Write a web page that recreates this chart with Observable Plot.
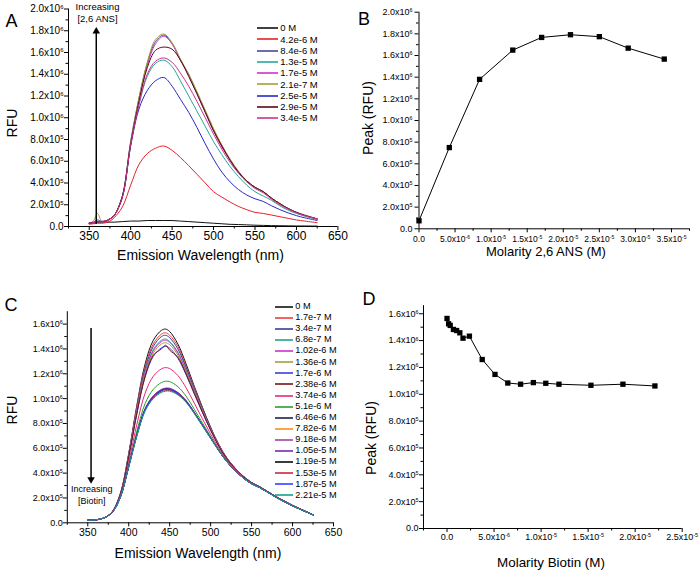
<!DOCTYPE html>
<html><head><meta charset="utf-8">
<script src="https://cdn.jsdelivr.net/npm/d3@7"></script>
<script src="https://cdn.jsdelivr.net/npm/@observablehq/plot@0.6"></script>
<style>
body{margin:0;background:#fff;}
#fig{position:relative;width:699px;height:572px;background:#fff;font-family:Arial,"Liberation Sans",sans-serif;color:#000;overflow:hidden}
.t{position:absolute;white-space:nowrap;line-height:1;transform:translate(-50%,-50%)}
.rot{transform:translate(-50%,-50%) rotate(-90deg)}
.leg{position:absolute;display:flex;align-items:center;white-space:nowrap;height:12px;line-height:1}
.leg svg{display:block}
</style></head><body><div id="fig"></div>
<script>
// ---------------- DATA ----------------
// Panel A: emission spectra, increasing [2,6 ANS]; values in units of 10^6 RFU
const wlA = [350,355,360,365,370,375,380,390,400,410,420,430,440,450,460,470,480,490,500,510,520,530,540,550,560,570,580,590,600,610,625];
const seriesA = ["0 M","4.2e-6 M","8.4e-6 M","1.3e-5 M","1.7e-5 M","2.1e-7 M","2.5e-5 M","2.9e-5 M","3.4e-5 M"];
const colorsA = ["#111111","#e8202a","#48489a","#2aa59a","#d030d0","#a0a030","#2828c8","#5a0a14","#c8348e"];
const a_0M    = [0.030,0.035,0.040,0.040,0.040,0.040,0.040,0.045,0.050,0.050,0.055,0.055,0.055,0.055,0.050,0.045,0.040,0.035,0.030,0.025,0.020,0.018,0.015,0.012,0.010,0.008,0.007,0.006,0.005,0.005,0.004];
const a_4_2e6 = [0.020,0.025,0.030,0.030,0.035,0.050,0.080,0.180,0.380,0.570,0.670,0.720,0.740,0.700,0.635,0.560,0.480,0.400,0.320,0.270,0.225,0.185,0.155,0.130,0.120,0.105,0.090,0.075,0.060,0.050,0.035];
const a_8_4e6 = [0.030,0.035,0.040,0.045,0.050,0.070,0.100,0.280,0.780,1.180,1.500,1.700,1.760,1.680,1.530,1.400,1.230,1.060,0.890,0.740,0.610,0.500,0.420,0.360,0.320,0.260,0.210,0.165,0.130,0.100,0.070];
const a_1_3e5 = [0.030,0.035,0.040,0.045,0.050,0.070,0.100,0.270,0.750,1.120,1.380,1.500,1.530,1.470,1.340,1.200,1.060,0.920,0.780,0.660,0.550,0.460,0.380,0.320,0.280,0.240,0.190,0.150,0.120,0.095,0.065];
const a_1_7e5 = [0.030,0.035,0.045,0.050,0.050,0.070,0.100,0.270,0.770,1.160,1.480,1.680,1.750,1.680,1.530,1.390,1.220,1.050,0.880,0.730,0.610,0.500,0.420,0.360,0.320,0.260,0.210,0.165,0.130,0.100,0.070];
const a_2_1e7 = [0.030,0.050,0.120,0.050,0.050,0.070,0.100,0.280,0.780,1.180,1.510,1.720,1.770,1.690,1.540,1.400,1.240,1.070,0.900,0.750,0.620,0.510,0.420,0.360,0.320,0.260,0.210,0.165,0.130,0.100,0.070];
const a_2_5e5 = [0.030,0.040,0.060,0.045,0.050,0.070,0.100,0.270,0.740,1.080,1.250,1.340,1.370,1.290,1.170,1.050,0.910,0.760,0.620,0.500,0.410,0.340,0.290,0.255,0.230,0.190,0.155,0.125,0.100,0.080,0.055];
const a_2_9e5 = [0.030,0.035,0.040,0.045,0.050,0.070,0.100,0.280,0.760,1.150,1.460,1.620,1.650,1.630,1.530,1.380,1.220,1.050,0.880,0.740,0.610,0.500,0.420,0.360,0.320,0.260,0.210,0.165,0.130,0.105,0.070];
const a_3_4e5 = [0.030,0.035,0.040,0.045,0.050,0.070,0.100,0.270,0.750,1.120,1.400,1.520,1.550,1.510,1.410,1.290,1.150,1.000,0.850,0.710,0.590,0.490,0.410,0.350,0.310,0.250,0.200,0.160,0.125,0.100,0.070];
const valuesA = [a_0M,a_4_2e6,a_8_4e6,a_1_3e5,a_1_7e5,a_2_1e7,a_2_5e5,a_2_9e5,a_3_4e5];

// Panel B: peak vs molarity 2,6 ANS
const ansM  = [0,4.2e-6,8.4e-6,1.3e-5,1.7e-5,2.1e-5,2.5e-5,2.9e-5,3.4e-5];
const peakB = [0.074,0.75,1.38,1.65,1.767,1.792,1.774,1.668,1.567];

// Panel C: emission spectra, increasing [Biotin]
const wlC = [350,360,370,380,390,400,410,420,430,440,445,450,460,470,480,490,500,510,520,530,540,550,560,570,580,590,600,610,625];
const seriesC = ["0 M","1.7e-7 M","3.4e-7 M","6.8e-7 M","1.02e-6 M","1.36e-6 M","1.7e-6 M","2.38e-6 M","3.74e-6 M","5.1e-6 M","6.46e-6 M","7.82e-6 M","9.18e-6 M","1.05e-5 M","1.19e-5 M","1.53e-5 M","1.87e-5 M","2.21e-5 M"];
const colorsC = ["#111111","#f03c3c","#3c3c96","#28a08c","#c832c8","#a0a03c","#3c3cdc","#781414","#e6287d","#28a028","#1e1e50","#ff8c1e","#9b46a5","#7828b4","#0a0a0a","#c8283c","#3c3cff","#14a08c"];
const c00 = [.02,.024,.04,.09,.24,.56,.95,1.28,1.47,1.55,1.56,1.54,1.44,1.28,1.10,.93,.77,.63,.52,.44,.375,.325,.29,.25,.21,.175,.14,.11,.065];
const c01 = [.02,.024,.04,.09,.24,.55,.94,1.26,1.44,1.52,1.53,1.51,1.42,1.26,1.09,.92,.76,.63,.52,.44,.374,.324,.29,.25,.21,.175,.14,.11,.065];
const c02 = [.02,.024,.04,.09,.237,.55,.925,1.24,1.42,1.50,1.51,1.49,1.40,1.25,1.08,.915,.76,.625,.517,.438,.374,.324,.29,.25,.21,.175,.14,.11,.065];
const c03 = [.02,.024,.04,.09,.235,.54,.91,1.22,1.395,1.47,1.48,1.46,1.374,1.23,1.065,.906,.756,.622,.515,.437,.373,.324,.289,.25,.21,.175,.14,.11,.065];
const c04 = [.02,.024,.04,.089,.234,.54,.905,1.21,1.385,1.46,1.47,1.454,1.366,1.224,1.06,.903,.754,.621,.514,.436,.372,.323,.289,.25,.21,.175,.14,.11,.065];
const c05 = [.02,.024,.04,.089,.233,.536,.895,1.196,1.367,1.44,1.45,1.434,1.35,1.212,1.052,.897,.75,.619,.513,.436,.372,.323,.289,.249,.209,.174,.139,.109,.065];
const c06 = [.02,.024,.04,.089,.232,.53,.88,1.174,1.34,1.41,1.42,1.406,1.325,1.193,1.038,.888,.745,.616,.512,.434,.371,.322,.288,.249,.209,.174,.139,.109,.065];
const c07 = [.02,.024,.04,.089,.232,.53,.885,1.18,1.35,1.40,1.43,1.39,1.333,1.20,1.043,.891,.747,.617,.512,.435,.371,.322,.288,.249,.209,.174,.139,.109,.065];
const c08 = [.02,.024,.04,.087,.22,.49,.795,1.044,1.18,1.24,1.25,1.242,1.186,1.088,.964,.837,.714,.599,.501,.428,.366,.319,.286,.247,.207,.172,.138,.108,.064];
const c09 = [.02,.024,.04,.086,.215,.468,.74,.96,1.075,1.13,1.14,1.137,1.096,1.02,.915,.804,.694,.588,.495,.423,.362,.317,.284,.246,.206,.171,.137,.107,.064];
const c10 = [.02,.024,.04,.085,.211,.454,.71,.915,1.019,1.07,1.08,1.079,1.046,.982,.889,.786,.684,.582,.491,.42,.36,.315,.283,.245,.205,.17,.137,.107,.064];
const c11 = [.02,.024,.04,.085,.211,.453,.708,.911,1.014,1.065,1.075,1.074,1.042,.979,.887,.785,.683,.582,.491,.42,.36,.315,.283,.245,.205,.17,.137,.107,.064];
const c12 = [.02,.024,.04,.085,.211,.456,.713,.919,1.024,1.075,1.085,1.084,1.05,.986,.891,.788,.685,.582,.491,.42,.36,.315,.283,.245,.205,.17,.137,.107,.064];
const c13 = [.02,.024,.04,.085,.211,.455,.711,.916,1.02,1.071,1.08,1.079,1.046,.982,.889,.786,.684,.582,.491,.42,.36,.315,.283,.245,.205,.17,.137,.107,.064];
const c14 = [.02,.024,.04,.085,.21,.452,.707,.91,1.013,1.064,1.075,1.073,1.041,.978,.886,.784,.683,.581,.49,.42,.36,.315,.283,.245,.205,.17,.137,.107,.064];
const c15 = [.02,.024,.04,.085,.21,.451,.703,.904,1.005,1.055,1.065,1.065,1.034,.973,.882,.782,.681,.58,.49,.42,.36,.315,.283,.245,.205,.17,.137,.107,.064];
const c16 = [.02,.024,.04,.085,.211,.453,.709,.912,1.015,1.066,1.075,1.074,1.043,.979,.887,.785,.683,.582,.491,.42,.36,.315,.283,.245,.205,.17,.137,.107,.064];
const c17 = [.02,.024,.04,.085,.21,.45,.70,.90,1.00,1.05,1.06,1.06,1.03,.97,.88,.78,.68,.58,.49,.42,.36,.315,.283,.245,.205,.17,.137,.107,.064];
const valuesC = [c00,c01,c02,c03,c04,c05,c06,c07,c08,c09,c10,c11,c12,c13,c14,c15,c16,c17];

// Panel D: peak vs molarity biotin
const biotinM = [0,1.7e-7,3.4e-7,6.8e-7,1.02e-6,1.36e-6,1.7e-6,2.38e-6,3.74e-6,5.1e-6,6.46e-6,7.82e-6,9.18e-6,1.05e-5,1.19e-5,1.53e-5,1.87e-5,2.21e-5];
const peakD   = [1.565,1.525,1.513,1.483,1.475,1.458,1.418,1.433,1.259,1.148,1.084,1.075,1.087,1.082,1.075,1.067,1.075,1.062];

// Ticks and tick labels (base text, exponent)
const wlTicks = [350,400,450,500,550,600,650];
const wlTickLabels = ["350","400","450","500","550","600","650"];
const wlMinor = [325,375,425,475,525,575,625];
const yTicks20 = [0,0.2,0.4,0.6,0.8,1.0,1.2,1.4,1.6,1.8,2.0];
const yTicks20Labels = ["0.0","2.0x10^5","4.0x10^5","6.0x10^5","8.0x10^5","1.0x10^6","1.2x10^6","1.4x10^6","1.6x10^6","1.8x10^6","2.0x10^6"];
const yMinor20 = [0.1,0.3,0.5,0.7,0.9,1.1,1.3,1.5,1.7,1.9];
const yTicks16 = [0,0.2,0.4,0.6,0.8,1.0,1.2,1.4,1.6];
const yTicks16Labels = ["0.0","2.0x10^5","4.0x10^5","6.0x10^5","8.0x10^5","1.0x10^6","1.2x10^6","1.4x10^6","1.6x10^6"];
const yMinor16 = [0.1,0.3,0.5,0.7,0.9,1.1,1.3,1.5];
const mTicksB = [0,5e-6,1e-5,1.5e-5,2e-5,2.5e-5,3e-5,3.5e-5];
const mTicksBLabels = ["0.0","5.0x10^-6","1.0x10^-5","1.5x10^-5","2.0x10^-5","2.5x10^-5","3.0x10^-5","3.5x10^-5"];
const mMinorB = [2.5e-6,7.5e-6,1.25e-5,1.75e-5,2.25e-5,2.75e-5,3.25e-5,3.75e-5];
const mTicksD = [0,5e-6,1e-5,1.5e-5,2e-5,2.5e-5];
const mTicksDLabels = ["0.0","5.0x10^-6","1.0x10^-5","1.5x10^-5","2.0x10^-5","2.5x10^-5"];
const mMinorD = [-2.5e-6,2.5e-6,7.5e-6,1.25e-5,1.75e-5,2.25e-5];

// Annotation arrows (data coordinates)
const arrowA = {x: 358.5, y1: 0.02, y2: 1.78, yHead: 1.795};
const arrowC = {x: 354, y1: 1.565, y2: 0.34, yHead: 0.35};

// ---------------- DRAWING ----------------
const FONT = 'Arial, "Liberation Sans", sans-serif';
const SVGNS = "http://www.w3.org/2000/svg";
const fig = document.getElementById("fig");

function tableOf(wl, names, vals) {
  const out = [];
  names.forEach((s, i) => vals[i].forEach((v, j) => out.push({wl: wl[j], v, s})));
  return out;
}

function axes(o) {
  return [
    Plot.axisX(o.xMajor, {tickSize: 4, tickPadding: o.xPad, fontSize: o.xFont, label: null,
      tickFormat: d => o.xLabels[o.xMajor.indexOf(d)]}),
    Plot.axisX(o.xMinor, {tickSize: 2.5, label: null, tickFormat: () => ""}),
    Plot.axisY(o.yMajor, {tickSize: 4, tickPadding: o.yPad, fontSize: o.yFont, label: null,
      tickFormat: d => o.yLabels[o.yMajor.indexOf(d)]}),
    Plot.axisY(o.yMinor, {tickSize: 2.5, label: null, tickFormat: () => ""}),
    Plot.ruleY([o.yDomain[0]], {stroke: "#000", strokeWidth: 1}),
    Plot.ruleX([o.xDomain[0]], {stroke: "#000", strokeWidth: 1})
  ];
}

// turn "a^b" tick labels into base text + raised small exponent
function superscripts(svg) {
  svg.querySelectorAll("text").forEach(t => {
    const s = t.textContent;
    const k = s.indexOf("^");
    if (k < 0) return;
    t.textContent = s.slice(0, k);
    const ts = document.createElementNS(SVGNS, "tspan");
    ts.setAttribute("font-size", "0.6em");
    ts.setAttribute("dy", "-0.55em");
    ts.textContent = s.slice(k + 1);
    t.appendChild(ts);
  });
}

function panel(cfg) {
  const svg = Plot.plot({
    width: cfg.w, height: cfg.h,
    marginLeft: cfg.ml, marginRight: cfg.mr, marginTop: cfg.mt, marginBottom: cfg.mb,
    x: {domain: cfg.xDomain, label: null},
    y: {domain: cfg.yDomain, label: null},
    color: cfg.color,
    style: {fontFamily: FONT, background: "transparent", color: "#000", overflow: "visible"},
    marks: [...axes(cfg), ...cfg.marks]
  });
  superscripts(svg);
  svg.style.position = "absolute";
  svg.style.left = cfg.left + "px";
  svg.style.top = cfg.top + "px";
  fig.appendChild(svg);
}

function addText(txt, x, y, size, rot) {
  const d = document.createElement("div");
  d.className = "t" + (rot ? " rot" : "");
  d.textContent = txt;
  d.style.left = x + "px"; d.style.top = y + "px";
  d.style.fontSize = size + "px";
  fig.appendChild(d);
}

function legend(names, colors, x, y0, dy, lineW, size) {
  names.forEach((n, i) => {
    const row = document.createElement("div");
    row.className = "leg";
    row.style.left = x + "px";
    row.style.top = (y0 + i * dy - 6) + "px";
    row.style.fontSize = size + "px";
    row.innerHTML = `<svg width="${lineW}" height="12"><line x1="0" x2="${lineW}" y1="6" y2="6" stroke="${colors[i]}" stroke-width="1.6"/></svg><span style="margin-left:2px">${n}</span>`;
    fig.appendChild(row);
  });
}

// Panel A
panel({
  left: 0, top: 0, w: 350, h: 270, ml: 68, mr: 12.6, mt: 8.5, mb: 44,
  xDomain: [325, 650], yDomain: [0, 2.0],
  xMajor: wlTicks, xLabels: wlTickLabels, xMinor: wlMinor, xFont: 12, xPad: 0.5,
  yMajor: yTicks20, yLabels: yTicks20Labels, yMinor: yMinor20, yFont: 10, yPad: 1,
  color: {domain: seriesA, range: colorsA},
  marks: [
    Plot.line(tableOf(wlA, seriesA, valuesA), {x: "wl", y: "v", z: "s", stroke: "s", strokeWidth: 1, curve: "catmull-rom"}),
    Plot.ruleX([arrowA], {x: "x", y1: "y1", y2: "y2", stroke: "#000", strokeWidth: 1.5}),
    Plot.dot([arrowA], {x: "x", y: "yHead", symbol: "triangle", r: 2.8, fill: "#000", stroke: null})
  ]
});

// Panel B
panel({
  left: 350, top: 0, w: 349, h: 270, ml: 68.5, mr: 10, mt: 11.7, mb: 41.7,
  xDomain: [0, 3.75e-5], yDomain: [0, 2.0],
  xMajor: mTicksB, xLabels: mTicksBLabels, xMinor: mMinorB, xFont: 8.5, xPad: 3,
  yMajor: yTicks20, yLabels: yTicks20Labels, yMinor: yMinor20, yFont: 9, yPad: 2.5,
  marks: [
    Plot.line(ansM.map((m, i) => ({m, p: peakB[i]})), {x: "m", y: "p", stroke: "#000", strokeWidth: 1}),
    Plot.dot(ansM.map((m, i) => ({m, p: peakB[i]})), {x: "m", y: "p", symbol: "square", r: 3, fill: "#000", stroke: null})
  ]
});

// Panel C
panel({
  left: 0, top: 280, w: 350, h: 292, ml: 66.8, mr: 17, mt: 31.2, mb: 49.7,
  xDomain: [325, 650], yDomain: [0, 1.7],
  xMajor: wlTicks, xLabels: wlTickLabels, xMinor: wlMinor, xFont: 10.5, xPad: 1.5,
  yMajor: yTicks16, yLabels: yTicks16Labels, yMinor: yMinor16, yFont: 9, yPad: 0.5,
  color: {domain: seriesC, range: colorsC},
  marks: [
    Plot.line(tableOf(wlC, seriesC, valuesC), {x: "wl", y: "v", z: "s", stroke: "s", strokeWidth: 1, curve: "catmull-rom"}),
    Plot.ruleX([arrowC], {x: "x", y1: "y1", y2: "y2", stroke: "#000", strokeWidth: 1.5}),
    Plot.dot([arrowC], {x: "x", y: "yHead", symbol: "triangle", rotate: 180, r: 2.8, fill: "#000", stroke: null})
  ]
});

// Panel D
panel({
  left: 350, top: 280, w: 349, h: 292, ml: 73, mr: 17.3, mt: 25.2, mb: 44,
  xDomain: [-2.5e-6, 2.5e-5], yDomain: [0, 1.66],
  xMajor: mTicksD, xLabels: mTicksDLabels, xMinor: mMinorD, xFont: 9, xPad: 1.5,
  yMajor: yTicks16, yLabels: yTicks16Labels, yMinor: yMinor16, yFont: 9, yPad: 1,
  marks: [
    Plot.line(biotinM.map((m, i) => ({m, p: peakD[i]})), {x: "m", y: "p", stroke: "#000", strokeWidth: 1}),
    Plot.dot(biotinM.map((m, i) => ({m, p: peakD[i]})), {x: "m", y: "p", symbol: "square", r: 3, fill: "#000", stroke: null})
  ]
});

// Titles, letters, annotations
addText("A", 11.5, 21, 18);
addText("B", 364, 19, 18);
addText("C", 11, 305, 18);
addText("D", 369, 299, 18);
addText("RFU", 12, 123, 14, true);
addText("Emission Wavelength (nm)", 200.5, 255, 14);
addText("Peak (RFU)", 368, 118, 14, true);
addText("Molarity 2,6 ANS (M)", 546, 251, 13);
addText("RFU", 12, 410, 14, true);
addText("Emission Wavelength (nm)", 198, 553, 14);
addText("Peak (RFU)", 371, 438, 14, true);
addText("Molarity Biotin (M)", 551, 563, 13.4);
addText("Increasing", 97.5, 7, 9.5);
addText("[2,6 ANS]", 97.5, 18.5, 9.5);
addText("Increasing", 91.7, 489, 9);
addText("[Biotin]", 91.7, 500.7, 9);

legend(seriesA, colorsA, 256.7, 28, 11.25, 21.6, 9.5);
legend(seriesC, colorsC, 275, 306.7, 11.1, 18.3, 9.2);
</script></body></html>
